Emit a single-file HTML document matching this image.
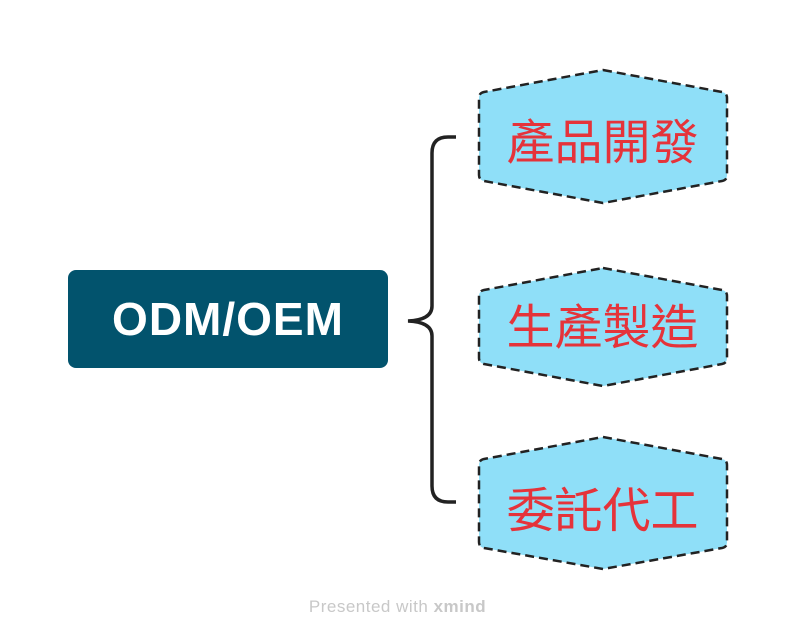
<!DOCTYPE html>
<html><head><meta charset="utf-8"><style>
body{margin:0;width:795px;height:639px;background:#fff;overflow:hidden;position:relative;font-family:"Liberation Sans","Noto Sans CJK TC",sans-serif}
.root{position:absolute;left:68px;top:270px;width:320px;height:98px;background:#02536d;border-radius:8px;color:#fff;font-weight:bold;font-size:46px;display:flex;align-items:center;justify-content:center;letter-spacing:1px}
.t{position:absolute;left:478px;width:249px;text-align:center;color:#e5333a;font-size:48px;line-height:60px;font-family:"Noto Sans CJK TC",sans-serif}
.f{position:absolute;left:0;width:795px;top:597px;text-align:center;color:#c8c8c8;font-size:17px;letter-spacing:0.5px}
</style></head><body>
<svg width="795" height="639" style="position:absolute;left:0;top:0">
<g fill="#8fdff8" stroke="#222" stroke-width="2.5" stroke-dasharray="9 5" stroke-linejoin="round">
<path d="M603 70 L722 92 Q727 93 727 98 L727 175 Q727 180 722 181 L603 203 L484 181 Q479 180 479 175 L479 98 Q479 93 484 92 Z"/>
<path d="M603 268 L722 290 Q727 291 727 296 L727 358 Q727 363 722 364 L603 386 L484 364 Q479 363 479 358 L479 296 Q479 291 484 290 Z"/>
<path d="M603 437 L722 459 Q727 460 727 465 L727 542 Q727 547 722 548 L603 569 L484 548 Q479 547 479 542 L479 465 Q479 460 484 459 Z"/>
</g>
<path d="M456 137 L448 137 Q432 137 432 153 L432 306 Q432 320 408 321 Q432 322 432 336 L432 486 Q432 502 448 502 L456 502" fill="none" stroke="#222" stroke-width="3.5"/>
</svg>
<div class="root">ODM/OEM</div>
<div class="t" style="top:108px">產品開發</div>
<div class="t" style="top:293px">生產製造</div>
<div class="t" style="top:476px">委託代工</div>
<div class="f">Presented with <b>xmind</b></div>
</body></html>
